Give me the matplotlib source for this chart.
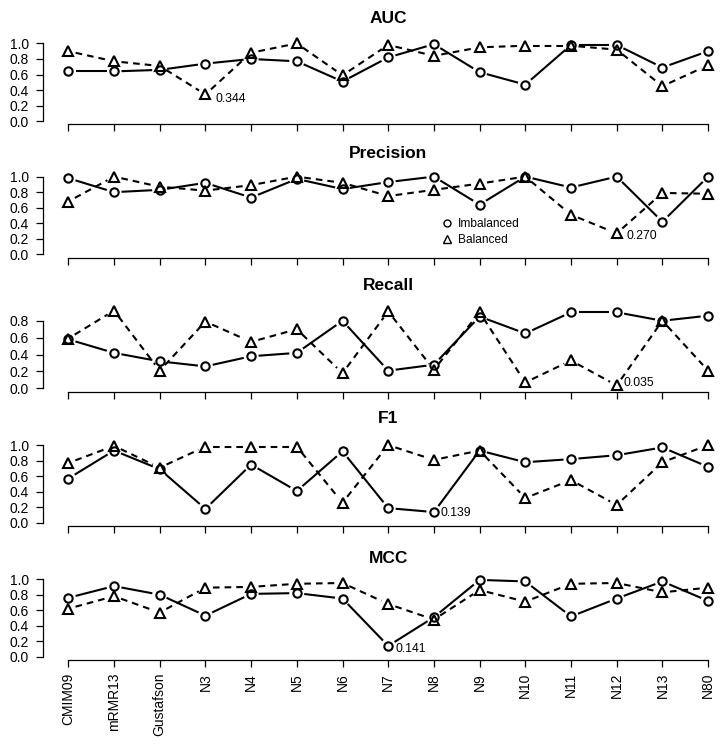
import numpy as np
import matplotlib
matplotlib.use("Agg")
import matplotlib.pyplot as plt
from matplotlib.lines import Line2D

# ---- Data ----
methods = ["CMIM09", "mRMR13", "Gustafson", "N3", "N4", "N5", "N6", "N7",
           "N8", "N9", "N10", "N11", "N12", "N13", "N80"]
metrics = ["AUC", "Precision", "Recall", "F1", "MCC"]

auc_imb = [0.64, 0.64, 0.66, 0.74, 0.80, 0.77, 0.51, 0.82, 0.99, 0.63, 0.47, 0.98, 0.98, 0.69, 0.90]
auc_bal = [0.90, 0.77, 0.71, 0.344, 0.88, 1.00, 0.59, 0.98, 0.84, 0.95, 0.97, 0.97, 0.92, 0.45, 0.72]

prec_imb = [0.98, 0.80, 0.83, 0.92, 0.73, 0.97, 0.84, 0.93, 1.00, 0.64, 1.00, 0.86, 1.00, 0.42, 1.00]
prec_bal = [0.68, 1.00, 0.87, 0.82, 0.89, 1.00, 0.92, 0.75, 0.83, 0.91, 1.00, 0.51, 0.270, 0.79, 0.78]

rec_imb = [0.58, 0.42, 0.32, 0.26, 0.38, 0.42, 0.80, 0.21, 0.28, 0.85, 0.65, 0.90, 0.90, 0.80, 0.86]
rec_bal = [0.59, 0.92, 0.21, 0.79, 0.55, 0.70, 0.18, 0.91, 0.22, 0.90, 0.07, 0.33, 0.035, 0.80, 0.21]

f1_imb = [0.57, 0.93, 0.69, 0.18, 0.75, 0.41, 0.92, 0.19, 0.139, 0.93, 0.78, 0.82, 0.87, 0.97, 0.72]
f1_bal = [0.77, 0.99, 0.71, 0.98, 0.98, 0.98, 0.26, 1.00, 0.81, 0.93, 0.32, 0.55, 0.23, 0.78, 1.00]

mcc_imb = [0.76, 0.91, 0.80, 0.53, 0.81, 0.82, 0.75, 0.141, 0.51, 0.99, 0.97, 0.52, 0.75, 0.97, 0.72]
mcc_bal = [0.62, 0.78, 0.57, 0.89, 0.90, 0.94, 0.95, 0.68, 0.48, 0.86, 0.71, 0.94, 0.95, 0.83, 0.89]

imbalanced = [auc_imb, prec_imb, rec_imb, f1_imb, mcc_imb]
balanced = [auc_bal, prec_bal, rec_bal, f1_bal, mcc_bal]

# upper y-limit per panel (recall is plotted over its own range)
y_tops = [1.0, 1.0, 0.92, 1.0, 1.0]

# (panel, series, method index) of the labelled minimum, with text offset in points
annotations = [
    (0, "bal", 3, (7.5, -3.5)),
    (1, "bal", 12, (7.0, -2.0)),
    (2, "bal", 12, (5.0, 1.5)),
    (3, "imb", 8, (4.5, -1.0)),
    (4, "imb", 7, (5.0, -2.5)),
]

# ---- Layout (pixels) ----
W, H = 721, 744
X0_PX, XSTEP_PX = 68.3, 45.7
XPAD = 0.56
REGION_H = 84
spine_px = [124.3, 257.5, 391.5, 526.0, 660.0]
title_px = [16.7, 152.0, 283.3, 416.7, 556.7]
GAP = 7.5
LW = 1.5

plt.rcParams["font.family"] = ["Liberation Sans", "DejaVu Sans"]


def draw_series(ax, y, marker, ms, dashed):
    xs = np.arange(len(y))
    pts = ax.transData.transform(np.column_stack([xs, y]))
    inv = ax.transData.inverted()
    # type="b" style: segments stop short of each point
    for p, q in zip(pts[:-1], pts[1:]):
        d = q - p
        L = np.hypot(*d)
        if L <= 2 * GAP:
            continue
        u = d / L
        seg = inv.transform(np.array([p + u * GAP, q - u * GAP]))
        line, = ax.plot(seg[:, 0], seg[:, 1], color="black", lw=LW,
                        solid_capstyle="butt", dash_capstyle="butt")
        if dashed:
            line.set_dashes((3.2, 2.4))
    ax.plot(xs, y, ls="none", marker=marker, ms=ms, mfc="none", mec="black",
            mew=1.5, clip_on=False, zorder=3)


def main():
    fig = plt.figure(figsize=(W / 100, H / 100), dpi=100)
    left_px = X0_PX - XPAD * XSTEP_PX
    width_px = (len(methods) - 1 + 2 * XPAD) * XSTEP_PX
    xs = np.arange(len(methods))

    for k, name in enumerate(metrics):
        imb, bal = imbalanced[k], balanced[k]
        ax = fig.add_axes([left_px / W, 1 - spine_px[k] / H, width_px / W, REGION_H / H])
        ax.patch.set_alpha(0)
        top = y_tops[k]
        ax.set_xlim(-XPAD, len(methods) - 1 + XPAD)
        ax.set_ylim(-0.04 * top, 1.04 * top)

        yt = np.round(np.arange(0, top + 1e-6, 0.2), 1)
        ax.set_yticks(yt)
        ax.set_yticklabels([f"{v:.1f}" for v in yt], fontsize=10)
        ax.set_xticks(xs)
        if k == len(metrics) - 1:
            ax.set_xticklabels(methods, rotation=90, fontsize=10)
        else:
            ax.set_xticklabels([])

        for s in ("top", "right"):
            ax.spines[s].set_visible(False)
        ax.spines["left"].set_bounds(0, yt[-1])
        ax.spines["bottom"].set_bounds(0, len(methods) - 1)
        for s in ("left", "bottom"):
            ax.spines[s].set_linewidth(0.9)
        ax.tick_params(axis="both", direction="out", length=5, width=0.9)
        ax.tick_params(axis="y", pad=5.0)
        ax.tick_params(axis="x", pad=4.3)

        draw_series(ax, bal, "^", 7, True)
        draw_series(ax, imb, "o", 6, False)

        for panel, series, idx, off in annotations:
            if panel != k:
                continue
            val = (imb if series == "imb" else bal)[idx]
            ax.annotate(f"{val:.3f}", (idx, val), xytext=off, textcoords="offset points",
                        ha="left", va="center", fontsize=8.8)

        cap = 12.5 * 100 / 72 * 0.716
        fig.text((left_px + width_px / 2) / W, 1 - (title_px[k] + cap / 2) / H, name,
                 ha="center", va="baseline", fontsize=12.5, fontweight="bold")

        if name == "Precision":
            handles = [
                Line2D([], [], ls="none", marker="o", ms=5, mfc="none", mec="black", mew=1.0),
                Line2D([], [], ls="none", marker="^", ms=6, mfc="none", mec="black", mew=1.0),
            ]
            ax.legend(handles, ["Imbalanced", "Balanced"], loc="upper left",
                      bbox_to_anchor=(442 / W, 1 - 218.3 / H), bbox_transform=fig.transFigure,
                      frameon=False, fontsize=8.6, handlelength=0.8, handletextpad=0.5,
                      labelspacing=0.3, borderpad=0, borderaxespad=0)

    fig.savefig("out.png", dpi=100)


if __name__ == "__main__":
    main()
